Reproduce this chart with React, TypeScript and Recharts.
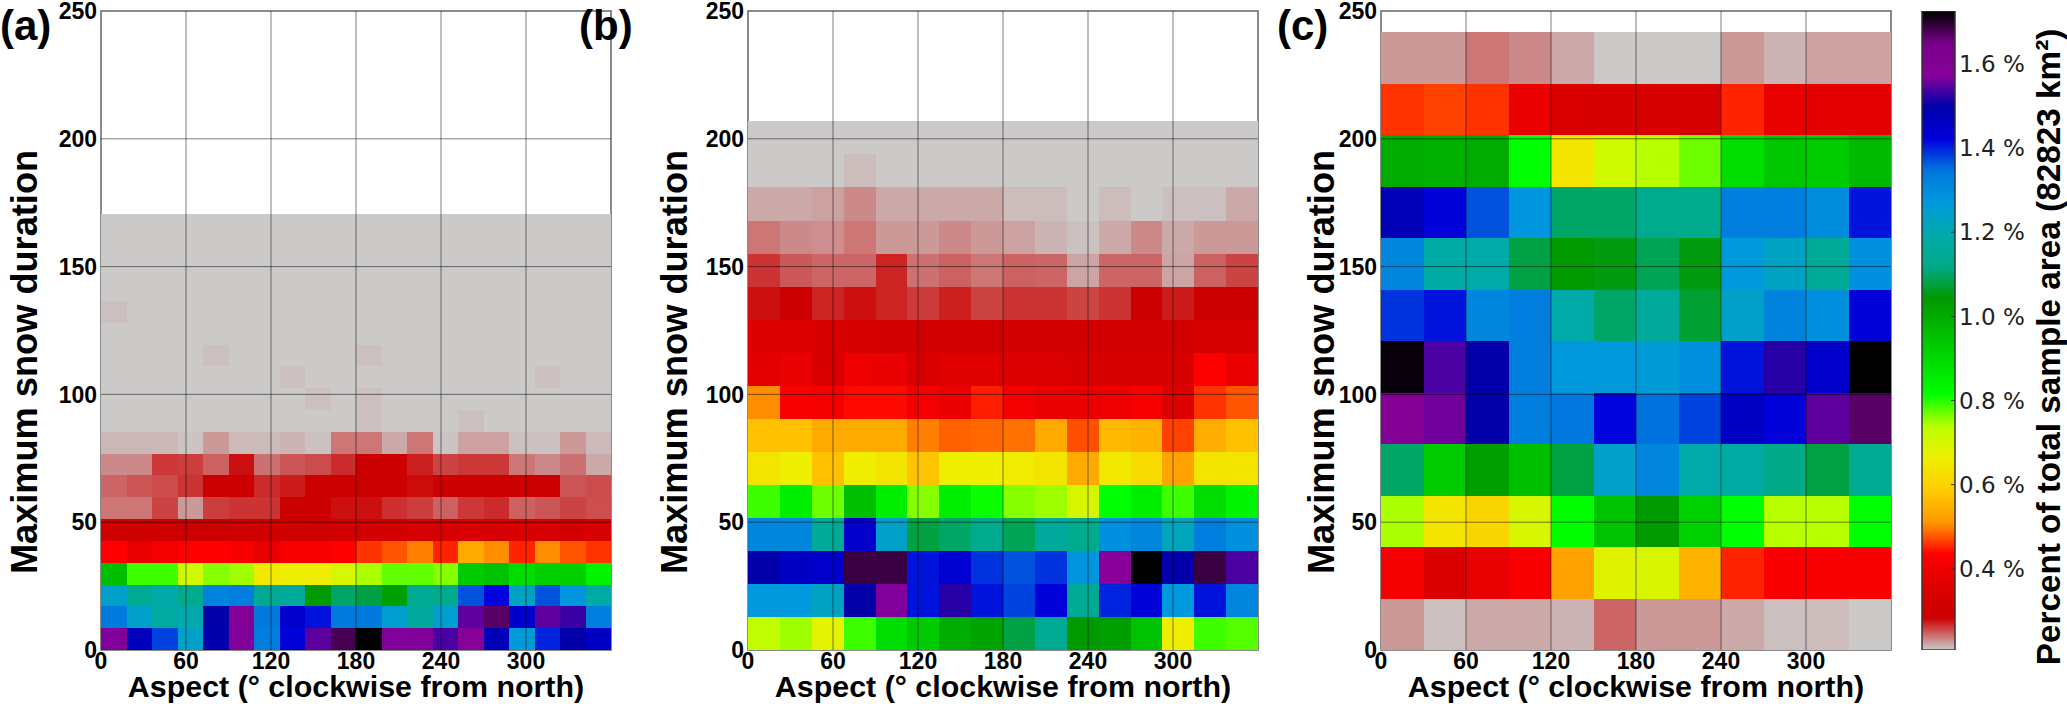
import { BarChart, Bar, XAxis, YAxis, ReferenceArea, ReferenceLine, Label } from 'recharts';

const xTicks = [0, 60, 120, 180, 240, 300];
const yTicks = [0, 50, 100, 150, 200, 250];
const colorTicks = [0.4, 0.6, 0.8, 1.0, 1.2, 1.4, 1.6];
const colorMin = 0.207;
const colorMax = 1.726;

// cell heights in days: top edge of the occupied range / number of rows
const binA = 170.7 / 20;
const binB = 206.8 / 16;
const binC = 241.6 / 12;

// percent of area per cell, rows run from the lowest duration bin upward
const panelA = [
  [1.57, 1.47, 1.38, 1.24, 1.49, 1.57, 1.33, 1.43, 1.55, 1.68, 1.726, 1.57, 1.57, 1.54, 1.58, 1.48, 1.26, 1.4, 1.5, 1.46],
  [1.34, 1.24, 1.17, 1.2, 1.5, 1.6, 1.34, 1.45, 1.41, 1.34, 1.34, 1.25, 1.16, 1.25, 1.55, 1.67, 1.45, 1.55, 1.53, 1.33],
  [1.24, 1.14, 1.19, 1.13, 1.32, 1.33, 1.14, 1.16, 1.04, 1.1, 1.08, 1.03, 1.14, 1.13, 1.37, 1.42, 1.23, 1.37, 1.28, 1.18],
  [0.96, 0.79, 0.79, 0.71, 0.76, 0.75, 0.65, 0.663, 0.66, 0.7, 0.745, 0.775, 0.775, 0.76, 0.93, 0.95, 0.89, 0.92, 0.92, 0.84],
  [0.435, 0.39, 0.41, 0.435, 0.435, 0.42, 0.38, 0.42, 0.42, 0.435, 0.46, 0.477, 0.498, 0.452, 0.536, 0.505, 0.452, 0.505, 0.477, 0.46],
  [0.3, 0.29, 0.29, 0.283, 0.283, 0.29, 0.3, 0.3, 0.29, 0.31, 0.31, 0.32, 0.33, 0.33, 0.34, 0.33, 0.34, 0.33, 0.32, 0.33],
  [0.239, 0.239, 0.258, 0.226, 0.26, 0.264, 0.264, 0.283, 0.283, 0.277, 0.277, 0.265, 0.26, 0.247, 0.262, 0.267, 0.247, 0.251, 0.258, 0.254],
  [0.245, 0.251, 0.255, 0.264, 0.283, 0.283, 0.267, 0.273, 0.283, 0.283, 0.283, 0.283, 0.279, 0.283, 0.283, 0.283, 0.283, 0.283, 0.251, 0.255],
  [0.232, 0.232, 0.262, 0.26, 0.247, 0.277, 0.241, 0.251, 0.255, 0.267, 0.283, 0.283, 0.271, 0.258, 0.262, 0.262, 0.239, 0.232, 0.241, 0.22],
  [0.215, 0.215, 0.215, 0.21, 0.226, 0.214, 0.214, 0.216, 0.211, 0.239, 0.239, 0.22, 0.239, 0.21, 0.223, 0.223, 0.211, 0.211, 0.226, 0.214],
  [0.208, 0.208, 0.208, 0.208, 0.208, 0.208, 0.208, 0.208, 0.208, 0.208, 0.212, 0.208, 0.208, 0.208, 0.212, 0.208, 0.208, 0.208, 0.208, 0.208],
  [0.208, 0.208, 0.208, 0.208, 0.208, 0.208, 0.208, 0.208, 0.212, 0.208, 0.212, 0.208, 0.208, 0.208, 0.208, 0.208, 0.208, 0.208, 0.208, 0.208],
  [0.208, 0.208, 0.208, 0.208, 0.208, 0.208, 0.208, 0.212, 0.208, 0.208, 0.208, 0.208, 0.208, 0.208, 0.208, 0.208, 0.208, 0.212, 0.208, 0.208],
  [0.208, 0.208, 0.208, 0.208, 0.212, 0.208, 0.208, 0.208, 0.208, 0.208, 0.212, 0.208, 0.208, 0.208, 0.208, 0.208, 0.208, 0.208, 0.208, 0.208],
  [0.208, 0.208, 0.208, 0.208, 0.208, 0.208, 0.208, 0.208, 0.208, 0.208, 0.208, 0.208, 0.208, 0.208, 0.208, 0.208, 0.208, 0.208, 0.208, 0.208],
  [0.212, 0.208, 0.208, 0.208, 0.208, 0.208, 0.208, 0.208, 0.208, 0.208, 0.208, 0.208, 0.208, 0.208, 0.208, 0.208, 0.208, 0.208, 0.208, 0.208],
  [0.208, 0.208, 0.208, 0.208, 0.208, 0.208, 0.208, 0.208, 0.208, 0.208, 0.208, 0.208, 0.208, 0.208, 0.208, 0.208, 0.208, 0.208, 0.208, 0.208],
  [0.208, 0.208, 0.208, 0.208, 0.208, 0.208, 0.208, 0.208, 0.208, 0.208, 0.208, 0.208, 0.208, 0.208, 0.208, 0.208, 0.208, 0.208, 0.208, 0.208],
  [0.208, 0.208, 0.208, 0.208, 0.208, 0.208, 0.208, 0.208, 0.208, 0.208, 0.208, 0.208, 0.208, 0.208, 0.208, 0.208, 0.208, 0.208, 0.208, 0.208],
  [0.208, 0.208, 0.208, 0.208, 0.208, 0.208, 0.208, 0.208, 0.208, 0.208, 0.208, 0.208, 0.208, 0.208, 0.208, 0.208, 0.208, 0.208, 0.208, 0.208],
];

const panelB = [
  [0.73, 0.75, 0.68, 0.79, 0.89, 0.93, 1.0, 1.02, 1.08, 1.14, 1.04, 1.03, 0.95, 0.66, 0.79, 0.78],
  [1.27, 1.27, 1.23, 1.5, 1.57, 1.41, 1.52, 1.41, 1.38, 1.43, 1.14, 1.4, 1.43, 1.27, 1.41, 1.31],
  [1.5, 1.46, 1.45, 1.69, 1.69, 1.41, 1.44, 1.39, 1.37, 1.39, 1.28, 1.58, 1.726, 1.5, 1.69, 1.54],
  [1.31, 1.31, 1.15, 1.45, 1.24, 1.08, 1.1, 1.13, 1.09, 1.16, 1.13, 1.29, 1.31, 1.22, 1.33, 1.29],
  [0.79, 0.85, 0.77, 0.96, 0.85, 0.76, 0.85, 0.81, 0.76, 0.75, 0.7, 0.815, 0.85, 0.79, 0.89, 0.84],
  [0.64, 0.663, 0.57, 0.66, 0.64, 0.575, 0.663, 0.663, 0.655, 0.64, 0.536, 0.65, 0.62, 0.525, 0.64, 0.64],
  [0.57, 0.57, 0.536, 0.536, 0.536, 0.498, 0.483, 0.486, 0.491, 0.536, 0.474, 0.56, 0.55, 0.467, 0.54, 0.57],
  [0.505, 0.42, 0.41, 0.44, 0.44, 0.41, 0.39, 0.45, 0.41, 0.39, 0.39, 0.4, 0.42, 0.36, 0.46, 0.477],
  [0.37, 0.385, 0.35, 0.4, 0.385, 0.35, 0.365, 0.365, 0.36, 0.355, 0.34, 0.34, 0.34, 0.34, 0.43, 0.39],
  [0.36, 0.36, 0.34, 0.33, 0.32, 0.32, 0.31, 0.31, 0.31, 0.31, 0.31, 0.31, 0.32, 0.32, 0.33, 0.33],
  [0.277, 0.283, 0.27, 0.277, 0.27, 0.261, 0.271, 0.258, 0.264, 0.264, 0.258, 0.264, 0.283, 0.273, 0.283, 0.283],
  [0.264, 0.25, 0.245, 0.245, 0.27, 0.241, 0.247, 0.239, 0.247, 0.245, 0.222, 0.245, 0.245, 0.222, 0.247, 0.258],
  [0.239, 0.232, 0.23, 0.239, 0.226, 0.226, 0.232, 0.226, 0.223, 0.216, 0.211, 0.22, 0.232, 0.22, 0.226, 0.226],
  [0.22, 0.22, 0.223, 0.232, 0.22, 0.22, 0.22, 0.22, 0.213, 0.213, 0.208, 0.213, 0.208, 0.212, 0.212, 0.22],
  [0.208, 0.208, 0.208, 0.213, 0.208, 0.208, 0.208, 0.208, 0.208, 0.208, 0.208, 0.208, 0.208, 0.208, 0.208, 0.208],
  [0.208, 0.208, 0.208, 0.208, 0.208, 0.208, 0.208, 0.208, 0.208, 0.208, 0.208, 0.208, 0.208, 0.208, 0.208, 0.208],
];

const panelC = [
  [0.226, 0.212, 0.22, 0.22, 0.216, 0.245, 0.226, 0.226, 0.22, 0.212, 0.213, 0.208],
  [0.41, 0.345, 0.385, 0.42, 0.525, 0.685, 0.695, 0.55, 0.452, 0.42, 0.42, 0.42],
  [0.745, 0.64, 0.61, 0.7, 0.82, 0.95, 1.04, 0.92, 0.815, 0.74, 0.74, 0.815],
  [1.1, 0.93, 1.03, 0.96, 1.08, 1.24, 1.31, 1.19, 1.18, 1.12, 1.08, 1.14],
  [1.6, 1.56, 1.5, 1.33, 1.345, 1.42, 1.35, 1.38, 1.46, 1.43, 1.55, 1.67],
  [1.72, 1.54, 1.5, 1.33, 1.275, 1.275, 1.26, 1.29, 1.41, 1.52, 1.45, 1.726],
  [1.39, 1.41, 1.31, 1.33, 1.19, 1.1, 1.16, 1.07, 1.24, 1.32, 1.29, 1.43],
  [1.31, 1.18, 1.19, 1.08, 1.04, 1.05, 1.09, 1.05, 1.27, 1.23, 1.15, 1.29],
  [1.48, 1.43, 1.37, 1.28, 1.1, 1.1, 1.13, 1.13, 1.33, 1.33, 1.3, 1.41],
  [1.0, 0.99, 1.0, 0.815, 0.645, 0.71, 0.74, 0.77, 0.89, 0.94, 0.93, 0.97],
  [0.46, 0.467, 0.46, 0.39, 0.345, 0.34, 0.34, 0.34, 0.452, 0.385, 0.37, 0.37],
  [0.226, 0.226, 0.239, 0.232, 0.22, 0.208, 0.208, 0.208, 0.226, 0.216, 0.223, 0.223],
];

// reversed spectral ramp, from colorMin (grey) to colorMax (black)
const ramp = [
  [204, 204, 204], [204, 0, 0], [221, 0, 0], [255, 0, 0], [255, 153, 0], [255, 204, 0], [238, 238, 0],
  [187, 255, 0], [0, 255, 0], [0, 221, 0], [0, 187, 0], [0, 153, 0], [0, 170, 136], [0, 170, 170],
  [0, 153, 221], [0, 119, 221], [0, 0, 221], [0, 0, 170], [136, 0, 153], [119, 0, 136], [0, 0, 0],
];

const colorOf = (v: number) => {
  const pos = Math.min(Math.max((v - colorMin) / (colorMax - colorMin), 0), 1) * (ramp.length - 1);
  const i = Math.min(Math.floor(pos), ramp.length - 2);
  const f = pos - i;
  const c = ramp[i].map((a, k) => Math.round(a + (ramp[i + 1][k] - a) * f));
  return `rgb(${c[0]},${c[1]},${c[2]})`;
};

const sans = 'Liberation Sans';
const plotW = 510;
const gridStroke = 'rgba(0,0,0,0.5)';

function HeatPanel({ rows, bin, left, plotLeft, titleX, tag, tagX }: any) {
  const cols = rows[0].length;
  const table = rows[0].map((_: number, c: number) => {
    const row: any = { col: c, deg: (c * 360) / cols };
    rows.forEach((_r: number[], r: number) => { row['r' + r] = bin; });
    return row;
  });
  return (
    <div style={{ position: 'absolute', left, top: 0 }}>
      <BarChart
        width={630}
        height={704}
        data={table}
        barCategoryGap={0}
        barGap={0}
        margin={{ top: 11, right: 630 - plotLeft - plotW, left: 0, bottom: 0 }}
      >
        <XAxis xAxisId="cells" dataKey="col" orientation="top" height={0} hide />
        <XAxis
          xAxisId="deg"
          dataKey="deg"
          type="number"
          scale="linear"
          domain={[0, 360]}
          allowDataOverflow
          ticks={xTicks}
          interval={0}
          height={54}
          tickSize={0}
          tickMargin={3}
          axisLine={false}
          tick={{ fontFamily: sans, fontWeight: 700, fontSize: 23, fill: '#000' }}
        >
          <Label
            content={() => (
              <text x={plotLeft + plotW / 2} y={697} textAnchor="middle" fontFamily={sans} fontWeight={700} fontSize={30.4}>
                Aspect (° clockwise from north)
              </text>
            )}
          />
        </XAxis>
        <YAxis
          type="number"
          domain={[0, 250]}
          ticks={yTicks}
          interval={0}
          width={plotLeft}
          tickSize={0}
          tickMargin={4}
          axisLine={false}
          tick={{ fontFamily: sans, fontWeight: 700, fontSize: 23, fill: '#000' }}
        >
          <Label
            content={() => (
              <text
                x={titleX}
                y={362}
                transform={`rotate(-90 ${titleX} 362)`}
                textAnchor="middle"
                fontFamily={sans}
                fontWeight={700}
                fontSize={36.2}
              >
                Maximum snow duration
              </text>
            )}
          />
        </YAxis>
        {rows.map((vals: number[], r: number) => (
          <Bar
            key={r}
            xAxisId="cells"
            dataKey={'r' + r}
            stackId="cells"
            isAnimationActive={false}
            shape={(p: any) => (
              <rect
                x={p.x}
                y={p.y}
                width={plotW / cols}
                height={p.height}
                fill={colorOf(vals[p.index])}
                shapeRendering="crispEdges"
              />
            )}
          />
        ))}
        {xTicks.slice(1).map((t) => (
          <ReferenceLine key={t} xAxisId="deg" x={t} stroke={gridStroke} strokeWidth={1} />
        ))}
        {yTicks.slice(1, -1).map((t) => (
          <ReferenceLine key={t} xAxisId="deg" y={t} stroke={gridStroke} strokeWidth={1} />
        ))}
        <ReferenceArea xAxisId="deg" x1={0} x2={360} y1={0} y2={250} fill="none" stroke="#666" strokeWidth={1.5} />
      </BarChart>
      <div
        style={{
          position: 'absolute',
          left: tagX,
          top: 0,
          fontFamily: sans,
          fontWeight: 700,
          fontSize: 42,
          lineHeight: '52px',
        }}
      >
        {tag}
      </div>
    </div>
  );
}

function ColorBar() {
  const scale = [{ name: 'area', span: [colorMin, colorMax] }];
  return (
    <div style={{ position: 'absolute', left: 1900, top: 0 }}>
      <BarChart
        width={167}
        height={704}
        data={scale}
        barCategoryGap={0}
        margin={{ top: 11, right: 0, left: 22, bottom: 54 }}
      >
        <defs>
          <linearGradient id="ramp" x1="0" y1="1" x2="0" y2="0">
            {ramp.map((c, i) => (
              <stop key={i} offset={i / (ramp.length - 1)} stopColor={`rgb(${c[0]},${c[1]},${c[2]})`} />
            ))}
          </linearGradient>
        </defs>
        <XAxis dataKey="name" hide />
        <YAxis
          orientation="right"
          type="number"
          domain={[colorMin, colorMax]}
          allowDataOverflow
          ticks={colorTicks}
          interval={0}
          width={112}
          axisLine={false}
          tickSize={-4}
          tickMargin={8}
          tickLine={{ stroke: '#333' }}
          tickFormatter={(v: number) => v.toFixed(1) + ' %'}
          tick={{ fontFamily: 'DejaVu Sans', fontSize: 23, fill: '#222' }}
        >
          <Label
            content={() => (
              <text
                x={160}
                y={347}
                transform={`rotate(-90 160 347)`}
                textAnchor="middle"
                fontFamily={sans}
                fontWeight={700}
                fontSize={33.3}
              >
                Percent of total sample area (82823 km²)
              </text>
            )}
          />
        </YAxis>
        <Bar dataKey="span" fill="url(#ramp)" stroke="#333" strokeWidth={1.5} isAnimationActive={false} />
      </BarChart>
    </div>
  );
}

export default function App() {
  return (
    <div style={{ position: 'absolute', left: 0, top: 0, width: 2067, height: 704, background: '#fff', overflow: 'hidden' }}>
      <HeatPanel rows={panelA} bin={binA} left={0} plotLeft={101} titleX={37} tag="(a)" tagX={0} />
      <HeatPanel rows={panelB} bin={binB} left={640} plotLeft={108} titleX={47} tag="(b)" tagX={-61} />
      <HeatPanel rows={panelC} bin={binC} left={1270} plotLeft={111} titleX={64} tag="(c)" tagX={7} />
      <ColorBar />
    </div>
  );
}
